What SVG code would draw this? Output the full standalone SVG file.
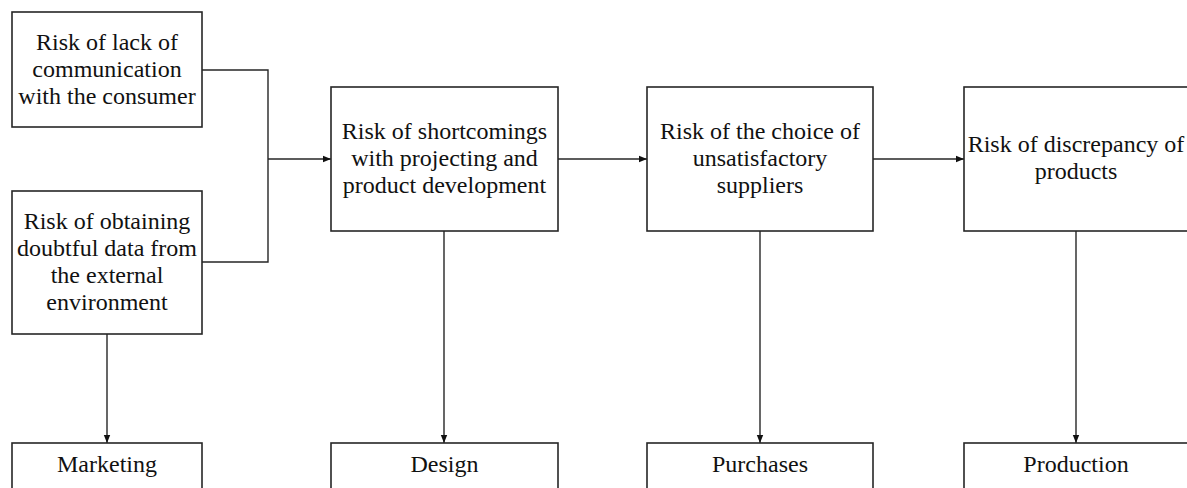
<svg xmlns="http://www.w3.org/2000/svg" width="1187" height="488" viewBox="0 0 1187 488">
<style>
.box{fill:#fff;stroke:#262626;stroke-width:1.6}
.t{font-family:"Liberation Serif","Times New Roman",serif;font-size:24px;fill:#111;text-anchor:middle}
.c{fill:none;stroke:#262626;stroke-width:1.4}
</style>
<defs>
<marker id="ah" viewBox="0 0 10 10" refX="10" refY="5" markerWidth="8" markerHeight="8" markerUnits="userSpaceOnUse" orient="auto">
<path d="M0,1 L10,5 L0,9 Z" fill="#111"/>
</marker>
</defs>
<rect width="1187" height="488" fill="#fff"/>
<g id="connectors">
<polyline class="c" points="202,70 268,70 268,262 202,262"/>
<line class="c" x1="268" y1="159" x2="331" y2="159" marker-end="url(#ah)"/>
<line class="c" x1="558" y1="159" x2="647" y2="159" marker-end="url(#ah)"/>
<line class="c" x1="873" y1="159" x2="964" y2="159" marker-end="url(#ah)"/>
<line class="c" x1="107" y1="334" x2="107" y2="443" marker-end="url(#ah)"/>
<line class="c" x1="444" y1="231" x2="444" y2="443" marker-end="url(#ah)"/>
<line class="c" x1="760" y1="231" x2="760" y2="443" marker-end="url(#ah)"/>
<line class="c" x1="1076" y1="231" x2="1076" y2="443" marker-end="url(#ah)"/>
</g>
<g id="risk-communication">
<rect class="box" x="12" y="12" width="190" height="115"/>
<text class="t" x="107" y="50">Risk of lack of</text>
<text class="t" x="107" y="77">communication</text>
<text class="t" x="107" y="104">with the consumer</text>
</g>
<g id="risk-data">
<rect class="box" x="12" y="191" width="190" height="143"/>
<text class="t" x="107" y="229">Risk of obtaining</text>
<text class="t" x="107" y="256">doubtful data from</text>
<text class="t" x="107" y="283">the external</text>
<text class="t" x="107" y="310">environment</text>
</g>
<g id="risk-shortcomings">
<rect class="box" x="331" y="87" width="227" height="144"/>
<text class="t" x="444.5" y="139">Risk of shortcomings</text>
<text class="t" x="444.5" y="166">with projecting and</text>
<text class="t" x="444.5" y="193">product development</text>
</g>
<g id="risk-suppliers">
<rect class="box" x="647" y="87" width="226" height="144"/>
<text class="t" x="760" y="139">Risk of the choice of</text>
<text class="t" x="760" y="166">unsatisfactory</text>
<text class="t" x="760" y="193">suppliers</text>
</g>
<g id="risk-discrepancy">
<rect class="box" x="964" y="87" width="224" height="144"/>
<text class="t" x="1076" y="152">Risk of discrepancy of</text>
<text class="t" x="1076" y="179">products</text>
</g>
<g id="marketing">
<rect class="box" x="12" y="443" width="190" height="60"/>
<text class="t" x="107" y="472">Marketing</text>
</g>
<g id="design">
<rect class="box" x="331" y="443" width="227" height="60"/>
<text class="t" x="444.5" y="472">Design</text>
</g>
<g id="purchases">
<rect class="box" x="647" y="443" width="226" height="60"/>
<text class="t" x="760" y="472">Purchases</text>
</g>
<g id="production">
<rect class="box" x="964" y="443" width="224" height="60"/>
<text class="t" x="1076" y="472">Production</text>
</g>
</svg>
